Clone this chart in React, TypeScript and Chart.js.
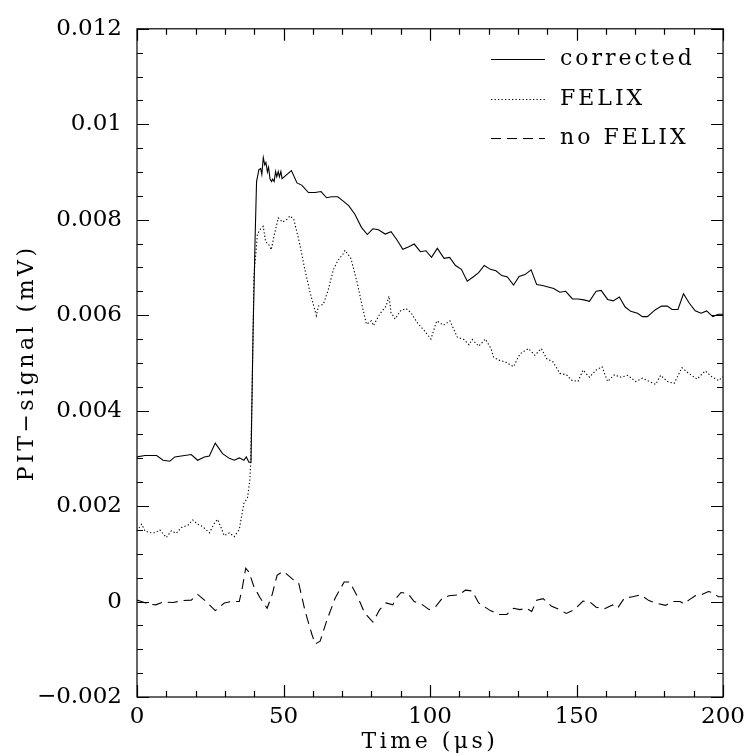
import React, { useEffect, useRef } from "react";
import { Chart, registerables } from "chart.js";

Chart.register(...registerables);

const seriesNames = ["corrected", "FELIX", "no FELIX"];
const xTitle = "Time (\u03bcs)";
const yTitle = "PIT\u2212signal (mV)";

const corrT = [0, 2.7, 6.7, 8.9, 11.2, 12.9, 18.5, 20.7, 23, 24.7, 26.7, 29.2, 31.5, 33.2, 34.9, 36.5, 37.3, 38.2, 38.9, 39.6, 40.3, 40.8, 41.6, 42.2, 42.6, 43.1, 43.6, 44.0, 44.5, 44.9, 45.4, 45.9, 46.3, 46.8, 47.3, 47.7, 48.2, 48.6, 49.1, 49.5, 52.7, 54.6, 56.3, 58.5, 60.8, 62.8, 64.7, 66.4, 68.5, 70.4, 72.3, 74.3, 76.6, 78.6, 80.5, 82.4, 84.7, 86.7, 88.8, 90.7, 92.6, 94.6, 96.7, 98.6, 100.5, 102.5, 104.8, 106.7, 108.7, 110.7, 112.7, 114.7, 116.6, 118.5, 120.6, 122.5, 124.5, 126.4, 128.5, 130.4, 132.4, 134.5, 136.4, 138.4, 140.3, 142.2, 144.3, 146.3, 148.6, 150.5, 152.5, 154.4, 156.7, 158.4, 160.6, 162.5, 164.6, 166.6, 168.5, 170.8, 172.5, 174.2, 176.8, 179, 181, 182.6, 184.6, 186.5, 188.5, 190.5, 192.5, 194.4, 196.5, 198.4, 200];
const corrV = [0.00303, 0.00306, 0.00306, 0.00296, 0.00294, 0.00303, 0.00308, 0.00296, 0.00303, 0.00305, 0.00332, 0.0031, 0.003, 0.00296, 0.00301, 0.00296, 0.00303, 0.00292, 0.00292, 0.0056, 0.0076, 0.0088, 0.00905, 0.00907, 0.00895, 0.0093, 0.00915, 0.0092, 0.009, 0.0091, 0.00885, 0.0088, 0.00885, 0.0088, 0.00901, 0.0089, 0.00901, 0.0089, 0.00901, 0.00886, 0.00903, 0.00877, 0.00872, 0.00857, 0.00857, 0.00859, 0.00846, 0.00848, 0.00848, 0.00839, 0.00829, 0.00812, 0.00784, 0.00769, 0.00781, 0.00779, 0.0077, 0.00775, 0.00757, 0.00738, 0.00743, 0.00749, 0.00733, 0.00735, 0.00721, 0.0074, 0.00719, 0.00721, 0.00704, 0.00696, 0.00671, 0.0068, 0.00689, 0.00704, 0.00696, 0.00693, 0.00683, 0.0068, 0.00663, 0.00681, 0.00685, 0.00695, 0.00664, 0.00662, 0.00659, 0.00656, 0.00648, 0.0065, 0.00634, 0.00634, 0.00632, 0.00629, 0.0065, 0.00652, 0.00633, 0.0063, 0.00638, 0.00617, 0.00608, 0.00604, 0.00597, 0.00597, 0.00611, 0.00619, 0.00619, 0.00612, 0.00612, 0.00645, 0.00625, 0.00609, 0.00604, 0.00609, 0.00597, 0.00602, 0.00602];

const felixT = [0, 1.6, 2.7, 4.4, 6.1, 7.8, 10, 11.7, 13.4, 15.1, 17.4, 19, 20.7, 22.4, 24.7, 26.4, 27.5, 28.7, 29.8, 31.5, 33.2, 34.9, 36.5, 37.7, 38.5, 38.8, 39.6, 39.9, 41.1, 42.2, 43.1, 43.9, 44.8, 45.8, 46.7, 48.2, 49.7, 51.2, 52.2, 53.5, 55.4, 57.2, 59.1, 61.2, 61.9, 63.6, 65.3, 67, 68.5, 70.4, 71, 73, 75.2, 76.6, 78.3, 80, 80.7, 82.8, 85, 86, 86.7, 88.1, 89.9, 91.8, 93.5, 95.8, 98, 100.3, 102.3, 104.6, 106.8, 109.3, 111.6, 113.3, 114.4, 116.6, 118.9, 120.8, 121.7, 123.4, 125.7, 128.5, 130.7, 133.6, 135.8, 138, 139.8, 142, 144.3, 146.6, 148.2, 150.5, 152.2, 154.4, 156.7, 158.7, 160.6, 162.9, 165.2, 167.4, 170.2, 172.5, 174.8, 177, 178.7, 181, 183.3, 186, 188.3, 191.1, 193.9, 196.2, 198.5, 200];
const felixV = [0.00148, 0.00162, 0.00148, 0.00144, 0.00144, 0.0015, 0.00134, 0.00148, 0.00143, 0.00155, 0.0016, 0.00171, 0.00162, 0.00157, 0.00144, 0.00164, 0.00172, 0.00155, 0.00138, 0.00144, 0.00136, 0.00151, 0.00206, 0.00217, 0.00254, 0.00289, 0.00557, 0.00681, 0.0077, 0.00781, 0.00786, 0.00753, 0.0075, 0.00737, 0.00764, 0.00804, 0.00795, 0.00801, 0.00808, 0.00801, 0.00753, 0.00698, 0.00647, 0.00599, 0.00619, 0.00623, 0.00654, 0.00695, 0.00714, 0.00729, 0.00736, 0.00719, 0.00667, 0.00626, 0.00581, 0.00588, 0.00578, 0.00602, 0.00619, 0.0064, 0.00605, 0.00592, 0.00609, 0.00614, 0.00605, 0.00583, 0.00568, 0.0055, 0.00588, 0.00579, 0.00588, 0.00554, 0.00549, 0.00538, 0.00549, 0.00535, 0.0055, 0.0053, 0.00512, 0.00506, 0.00502, 0.00492, 0.00519, 0.0053, 0.00516, 0.0053, 0.00509, 0.00502, 0.00478, 0.00475, 0.00464, 0.00461, 0.00485, 0.0047, 0.00485, 0.00492, 0.00461, 0.00475, 0.0047, 0.00474, 0.00461, 0.00468, 0.00461, 0.00455, 0.00474, 0.00461, 0.00457, 0.0049, 0.00478, 0.00466, 0.00483, 0.00471, 0.00463, 0.00471];

const noFelixT = [0, 1.5, 3.8, 6.4, 8.9, 12.3, 15.7, 18.5, 20.7, 23.6, 26.7, 29.8, 32.2, 34.9, 36, 37.1, 38.2, 39.9, 42, 44.4, 46.1, 47.8, 49.7, 50.6, 52.9, 55.2, 57.4, 59.7, 60.8, 62.5, 64.7, 67.6, 70.7, 72.6, 75.5, 77.7, 80.5, 82.8, 85, 87.3, 88.4, 90.1, 92.4, 94.6, 97.5, 99.7, 102, 104.2, 106.5, 109.9, 112.1, 114.4, 116.6, 120.6, 123.4, 126.2, 128.5, 130.7, 132.9, 134.7, 136.4, 138.6, 141.5, 144.3, 146.5, 149.3, 152.2, 154.4, 156.7, 159.6, 162.3, 164, 166.3, 169.1, 171.9, 174.7, 177, 180.4, 182.6, 185.4, 186.6, 188.3, 190.5, 192.8, 195, 196.7, 198.4, 200];
const noFelixV = [0.00003, 0.0, -0.00005, -0.00007, -0.00001, -0.00002, 0.00002, 0.00003, 0.00015, 0.0, -0.00019, -0.00003, 0.0, 0.0, 0.00031, 0.0007, 0.00062, 0.00031, 0.00008, -0.00014, 0.00014, 0.00055, 0.00063, 0.0006, 0.00048, 0.00038, -0.00021, -0.00069, -0.00089, -0.00083, -0.00041, 0.00007, 0.00041, 0.00041, 0.00007, -0.00024, -0.00043, -0.00017, -0.00003, -0.00007, 0.00007, 0.00019, 0.00017, 0.0, -0.00007, -0.00017, -0.0001, 0.00007, 0.00012, 0.00014, 0.00024, 0.00022, -0.00003, -0.00019, -0.00027, -0.00027, -0.00014, -0.00017, -0.00014, -0.00021, 0.00003, 0.00006, -0.0001, -0.00017, -0.00025, -0.00017, 0.00001, 0.0, -0.00012, -0.00015, -0.00007, -0.00014, 0.00007, 0.0001, 0.00014, 0.00002, -0.00003, -0.00008, 0.0, 0.0, -0.00005, 0.00003, 0.00012, 0.00015, 0.00021, 0.00018, 0.0001, 0.0001];

const xMin = 0, xMax = 200, xMajor = 50, xMinor = 10;
const yMin = -0.002, yMax = 0.012, yMajor = 0.002, yMinor = 0.0005;

const FONT = "'DejaVu Serif', 'Liberation Serif', serif";
const dashes = [[], [1.3, 2.2], [10, 6]];

function toPts(t: number[], v: number[]) {
  return t.map((x, i) => ({ x, y: v[i] }));
}

const framePlugin = {
  id: "frame",
  afterDraw(chart: any) {
    const ctx = chart.ctx as CanvasRenderingContext2D;
    const { left, right, top, bottom } = chart.chartArea;
    const xs = chart.scales.x;
    const ys = chart.scales.y;
    ctx.save();
    ctx.strokeStyle = "#000";
    ctx.lineWidth = 1.2;
    ctx.setLineDash([]);
    ctx.strokeRect(left, top, right - left, bottom - top);
    ctx.beginPath();
    for (let v = xMin; v <= xMax + 1e-9; v += xMinor) {
      const p = Math.round(xs.getPixelForValue(v)) + 0.5;
      const major = Math.abs(v / xMajor - Math.round(v / xMajor)) < 1e-6;
      const len = major ? 12 : 6;
      ctx.moveTo(p, bottom);
      ctx.lineTo(p, bottom - len);
      ctx.moveTo(p, top);
      ctx.lineTo(p, top + len);
    }
    for (let k = 0; k <= Math.round((yMax - yMin) / yMinor); k++) {
      const v = yMin + k * yMinor;
      const p = Math.round(ys.getPixelForValue(v)) + 0.5;
      const major = k % Math.round(yMajor / yMinor) === 0;
      const len = major ? 12 : 6;
      ctx.moveTo(left, p);
      ctx.lineTo(left + len, p);
      ctx.moveTo(right, p);
      ctx.lineTo(right - len, p);
    }
    ctx.stroke();

    // axis titles
    ctx.fillStyle = "#000";
    ctx.font = `22px ${FONT}`;
    (ctx as any).letterSpacing = "3.5px";
    ctx.textAlign = "center";
    ctx.textBaseline = "alphabetic";
    ctx.fillText(xTitle, (left + right) / 2, 748);
    ctx.save();
    ctx.translate(33, (top + bottom) / 2);
    ctx.rotate(-Math.PI / 2);
    ctx.fillText(yTitle, 0, 0);
    ctx.restore();

    // legend
    (ctx as any).letterSpacing = "3px";
    ctx.textAlign = "left";
    ctx.textBaseline = "middle";
    const rowY = [59, 99, 138];
    chart.data.datasets.forEach((ds: any, i: number) => {
      ctx.beginPath();
      ctx.lineWidth = 1.1;
      ctx.setLineDash(dashes[i]);
      ctx.moveTo(491, rowY[i] + 0.5);
      ctx.lineTo(545, rowY[i] + 0.5);
      ctx.stroke();
      ctx.setLineDash([]);
      ctx.fillText(ds.label, 560, rowY[i]);
    });
    ctx.restore();
  },
};

export default function App() {
  const ref = useRef<HTMLCanvasElement>(null);
  useEffect(() => {
    const canvas = ref.current!;
    const datasets = [
      toPts(corrT, corrV),
      toPts(felixT, felixV),
      toPts(noFelixT, noFelixV),
    ].map((data, i) => ({
      label: seriesNames[i],
      data,
      borderColor: "#000",
      borderWidth: 1.1,
      borderDash: dashes[i],
      pointRadius: 0,
      fill: false,
      tension: 0,
    }));
    const chart = new Chart(canvas, {
      type: "line",
      data: { datasets },
      options: {
        responsive: false,
        animation: false,
        devicePixelRatio: 1,
        layout: { padding: { top: 19, right: 23, left: 0, bottom: 0 } },
        plugins: { legend: { display: false }, tooltip: { enabled: false } },
        scales: {
          x: {
            type: "linear",
            min: xMin,
            max: xMax,
            grid: { display: false, drawTicks: false },
            border: { display: false },
            ticks: {
              stepSize: xMajor,
              padding: 6,
              color: "#000",
              font: { family: FONT, size: 23 },
              maxRotation: 0,
            },
            afterFit: (s: any) => { s.height = 58; },
          },
          y: {
            type: "linear",
            min: yMin,
            max: yMax,
            grid: { display: false, drawTicks: false },
            border: { display: false },
            ticks: {
              stepSize: yMajor,
              padding: 15,
              color: "#000",
              font: { family: FONT, size: 23 },
              callback: (v: any) => {
                const n = Number(Number(v).toFixed(4));
                return n < 0 ? "\u2212" + String(-n) : String(n);
              },
            },
            afterFit: (s: any) => { s.width = 137; },
          },
        },
      },
      plugins: [framePlugin],
    } as any);
    return () => chart.destroy();
  }, []);
  return (
    <canvas
      ref={ref}
      width={751}
      height={755}
      style={{ position: "absolute", left: 0, top: 0, width: 751, height: 755, background: "#fff" }}
    />
  );
}
